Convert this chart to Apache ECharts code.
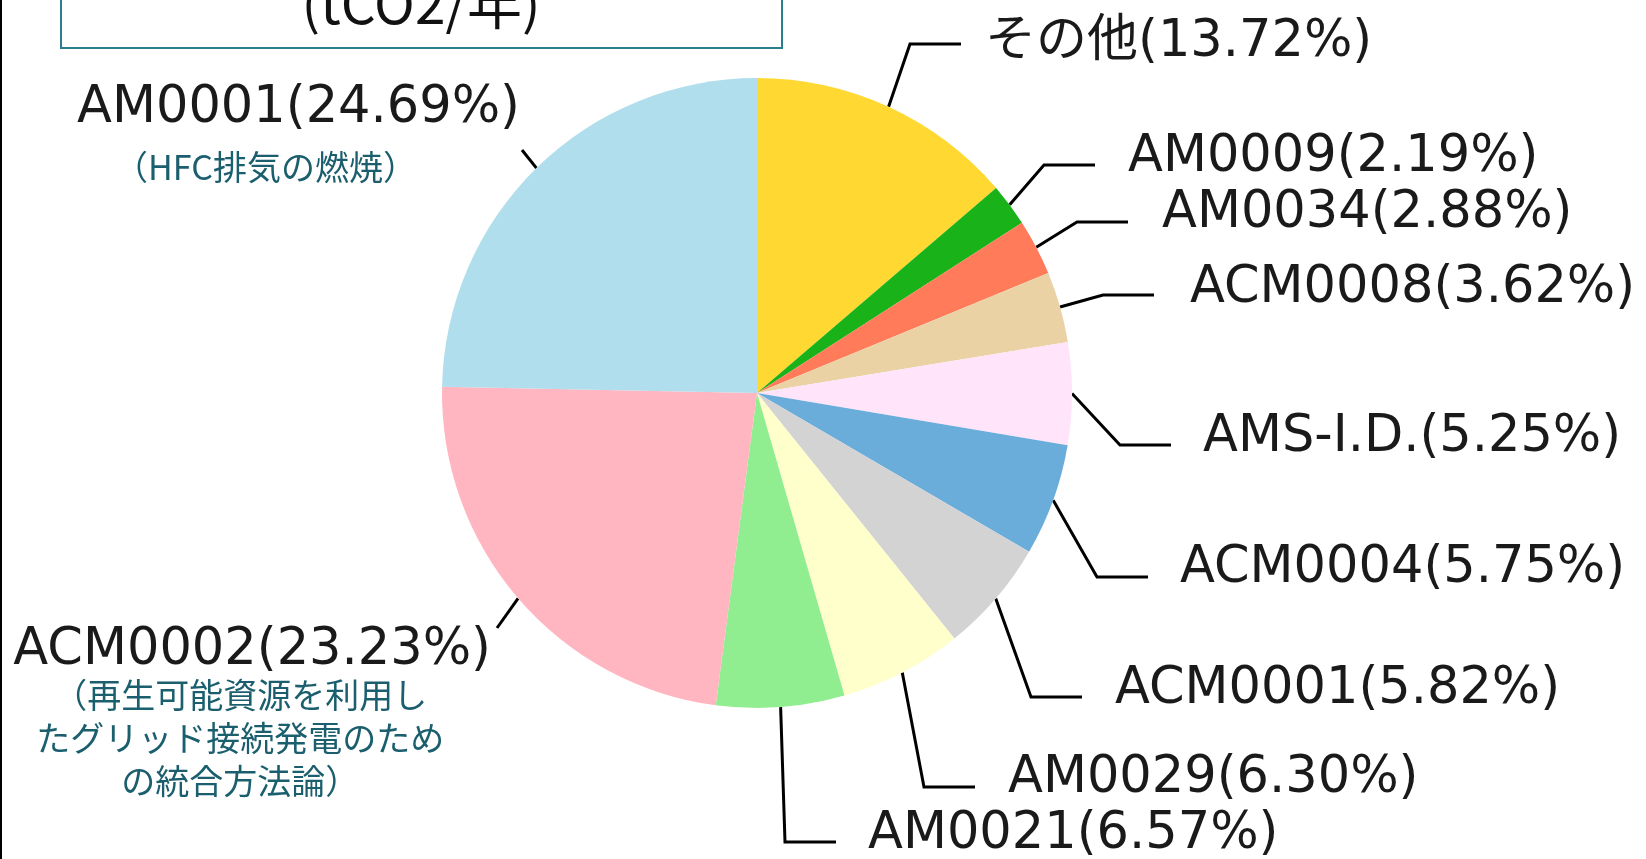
<!DOCTYPE html>
<html>
<head>
<meta charset="utf-8">
<script src="https://cdn.jsdelivr.net/npm/echarts@6/dist/echarts.min.js"></script>
<style>
	html, body { margin: 0; padding: 0; background: #fff; }
	#chart { width: 1646px; height: 859px; }
</style>
</head>
<body>
<div id="chart"></div>
<script>
// data
const names = ['その他', 'AM0009', 'AM0034', 'ACM0008', 'AMS-I.D.', 'ACM0004', 'ACM0001', 'AM0029', 'AM0021', 'ACM0002', 'AM0001']
const shares = [13.72, 2.19, 2.88, 3.62, 5.25, 5.75, 5.82, 6.3, 6.57, 23.23, 24.69]
const notes = {
	AM0001: ['（HFC排気の燃焼）'],
	ACM0002: ['（再生可能資源を利用し', 'たグリッド接続発電のため', 'の統合方法論）'],
}
const unitText = '(tCO2/年)'

// styles
const sliceColors = ['#FFD932', '#19B219', '#FF7B5A', '#EAD2A5', '#FFE4FA', '#6AACDA', '#D3D3D3', '#FFFFCC', '#90EE90', '#FFB6C1', '#B0DEEC']
const latinFont = "'DejaVu Sans', 'Noto Sans CJK JP', sans-serif"
const cjkFont = "'Noto Sans CJK JP', sans-serif"
const noteColor = '#1B5F6E'

// label anchors and leader elbows (px)
const labelAt = [[985, 43], [1128, 158], [1162, 214], [1190, 289], [1203, 438], [1180, 569], [1115, 690], [1008, 779], [868, 835], [491, 627], [520, 85]]
const elbowAt = [[910, 44], [1044, 165], [1077, 222], [1103, 295], [1120, 445], [1097, 577], [1031, 697], [924, 787], [785, 842], [497, 628], [522, 150]]

const myChart = echarts.init(document.getElementById('chart'))

const option = {
	backgroundColor: '#fff',
	animation: false,
	graphic: [
		{
			type: 'rect',
			shape: { x: 61, y: -20, width: 721, height: 68 },
			style: { fill: '#fff', stroke: '#2A7F8E', lineWidth: 2 },
		},
		{
			type: 'text',
			x: 421,
			y: 3,
			style: {
				text: unitText,
				fontSize: 55,
				fontFamily: cjkFont,
				fill: '#111',
				align: 'center',
				verticalAlign: 'middle',
			},
		},
		{
			type: 'line',
			shape: { x1: 1, y1: 0, x2: 1, y2: 859 },
			style: { stroke: '#000', lineWidth: 2 },
		},
	],
	series: [
		{
			type: 'pie',
			center: [757, 393],
			radius: 315,
			startAngle: 90,
			clockwise: true,
			avoidLabelOverlap: false,
			silent: true,
			color: sliceColors,
			itemStyle: { borderWidth: 0 },
			label: {
				show: true,
				position: 'outside',
				formatter: function (p) {
					let s = '{t|' + p.name + '(' + p.value.toFixed(2) + '%)}'
					const n = notes[p.name]
					if (n) {
						const key = p.name === 'AM0001' ? 'n1' : 'n'
						s += '\n' + n.map((line) => '{' + key + '|' + line + '}').join('\n')
					}
					return s
				},
				rich: {
					t: { fontSize: 51, lineHeight: 47, fontFamily: latinFont, color: '#1a1a1a', align: 'center' },
					n: { fontSize: 34, lineHeight: 43, fontFamily: cjkFont, color: noteColor, align: 'center', padding: [0, 24, 0, 0] },
					n1: { fontSize: 34, lineHeight: 71, fontFamily: cjkFont, color: noteColor, align: 'center', padding: [0, 66, 0, 0] },
				},
			},
			labelLine: {
				show: true,
				length: 30,
				length2: 30,
				lineStyle: { color: '#000', width: 3 },
			},
			labelLayout: function (p) {
				const i = p.dataIndex
				const onLeft = !!notes[names[i]]
				const start = p.labelLinePoints ? p.labelLinePoints[0] : elbowAt[i]
				const e = elbowAt[i]
				return {
					x: labelAt[i][0],
					y: labelAt[i][1],
					align: onLeft ? 'right' : 'left',
					verticalAlign: onLeft ? 'top' : 'middle',
					labelLinePoints: [start, e, onLeft ? e : [e[0] + 51, e[1]]],
				}
			},
			data: names.map((name, i) => ({ name: name, value: shares[i] })),
		},
	],
}

myChart.setOption(option)
</script>
</body>
</html>
